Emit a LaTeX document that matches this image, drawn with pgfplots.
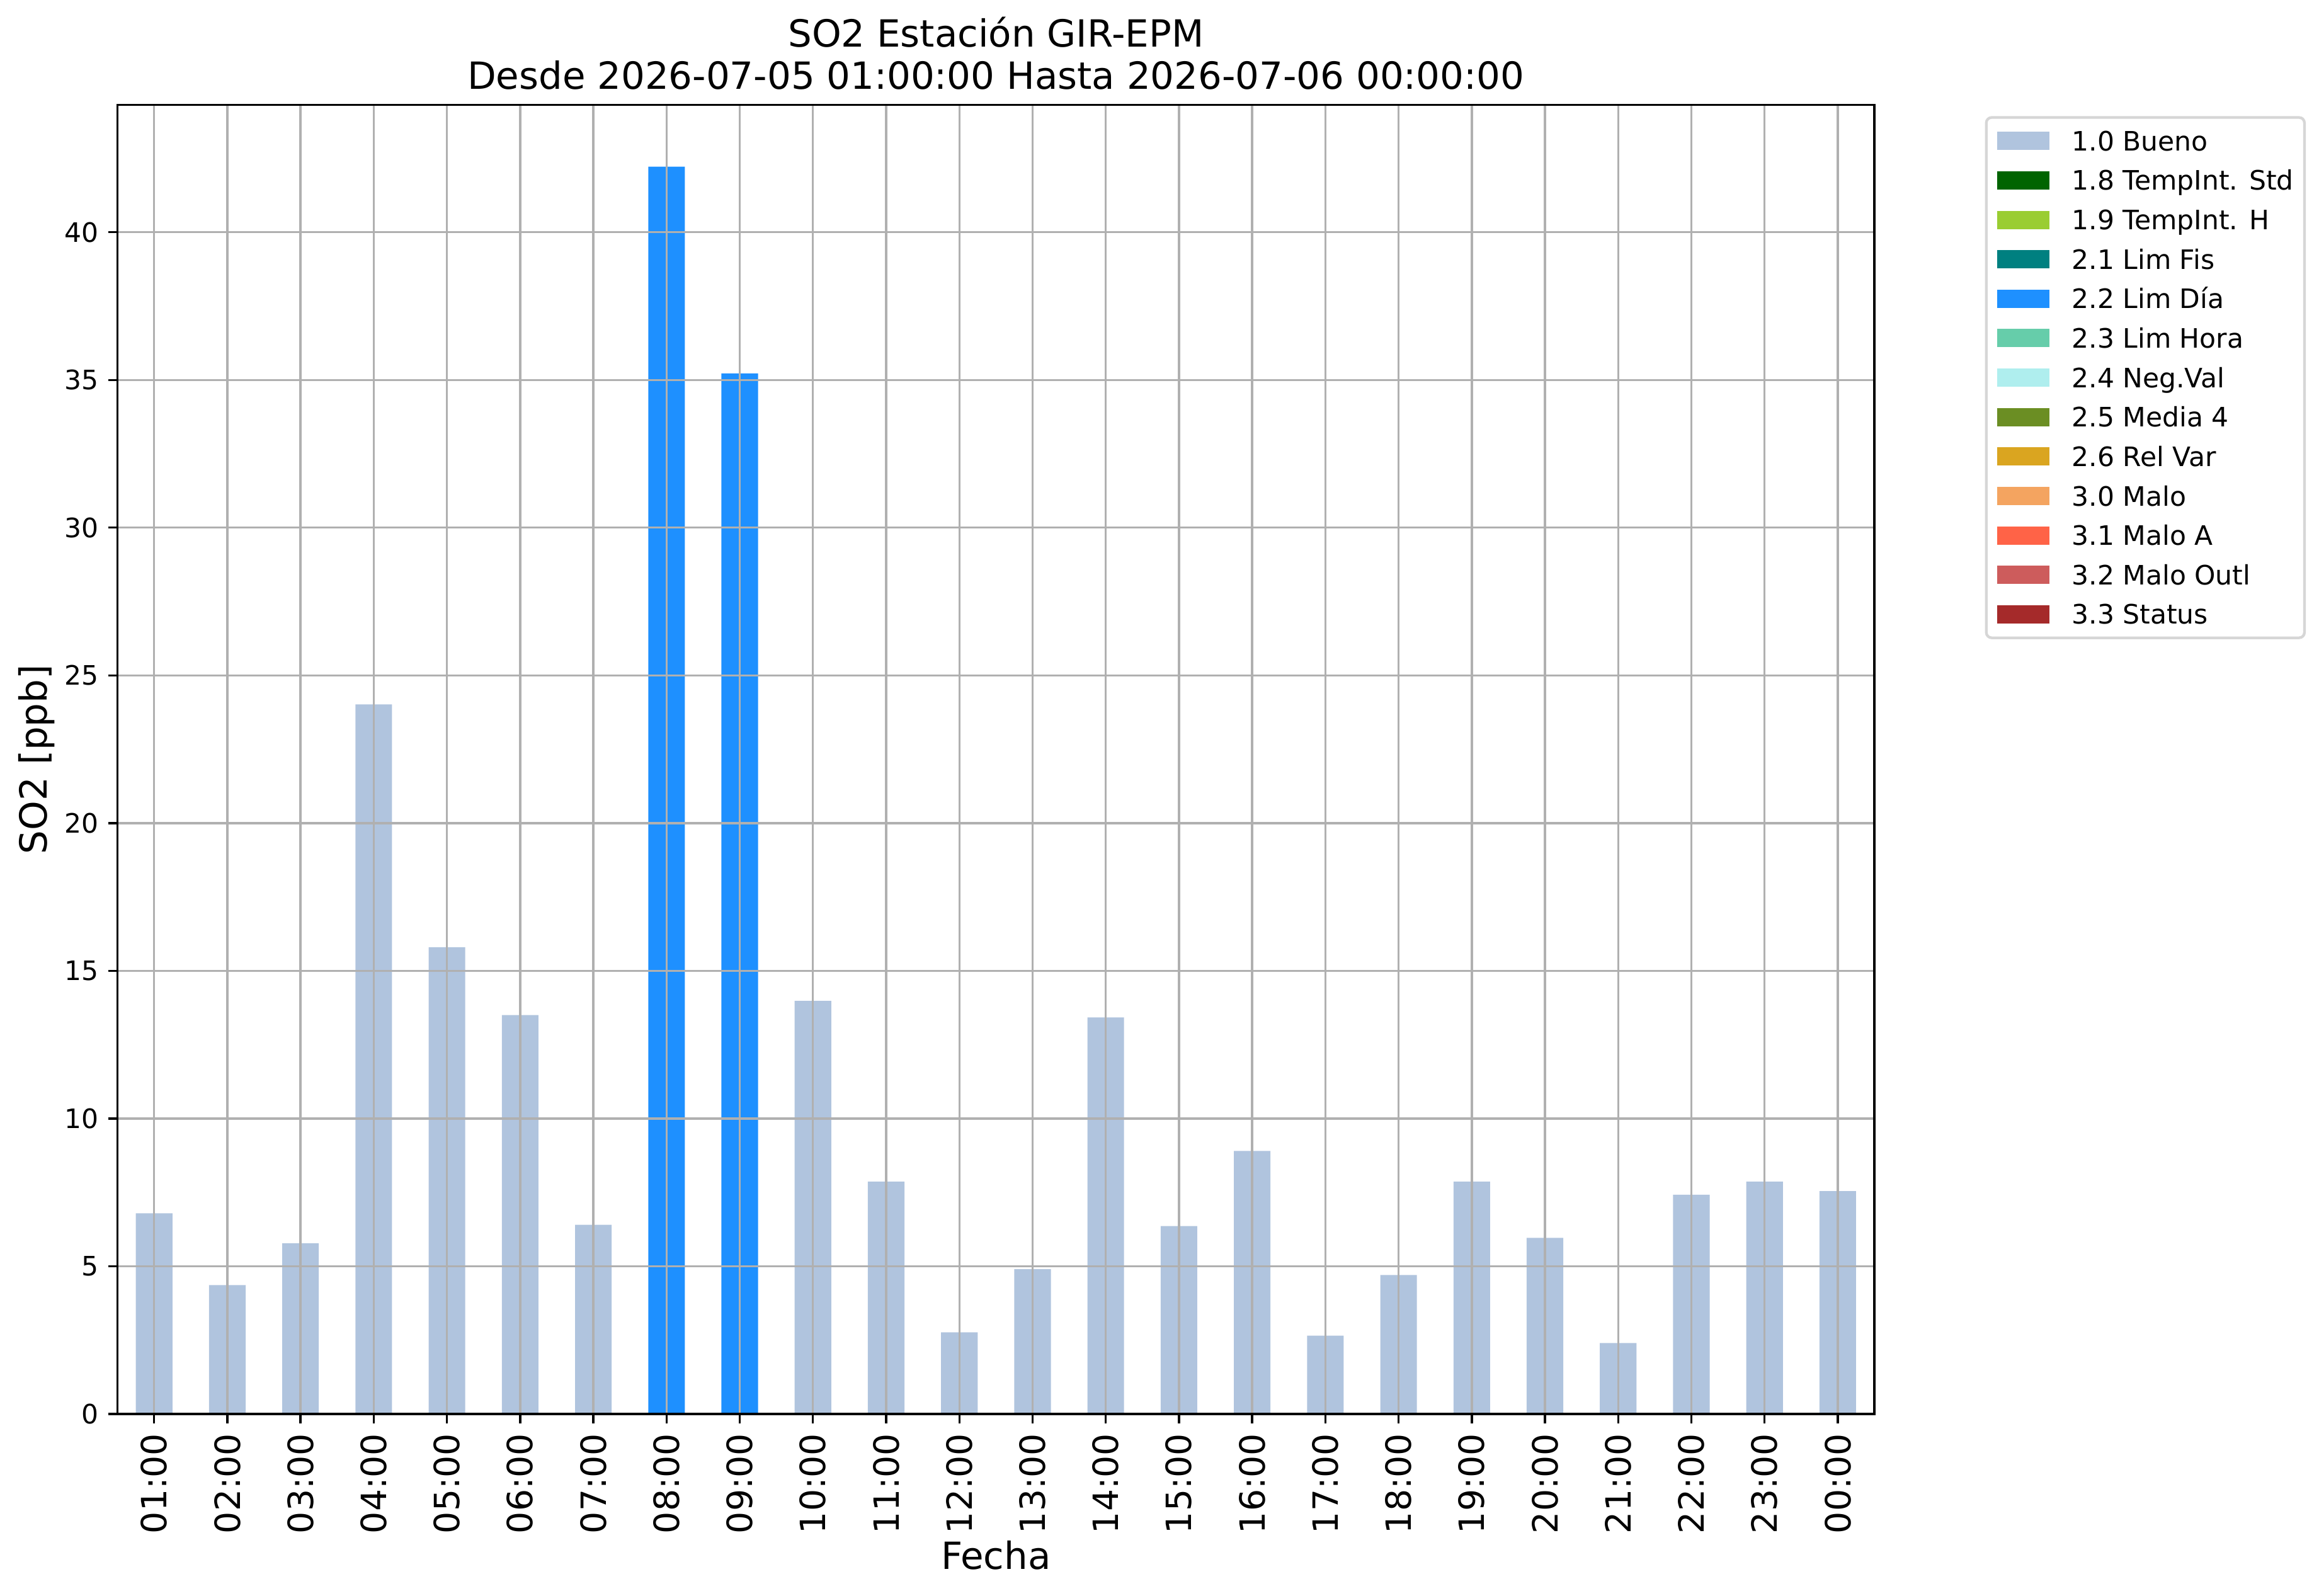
\documentclass[border=0pt]{standalone}
\usepackage{fontspec}
\setmainfont{DejaVu Sans}
\usepackage{pgfplots}
\pgfplotsset{compat=1.18}
\definecolor{cBueno}{HTML}{B0C4DE}
\definecolor{cStd}{HTML}{006400}
\definecolor{cH}{HTML}{9ACD32}
\definecolor{cFis}{HTML}{008080}
\definecolor{cDia}{HTML}{1E90FF}
\definecolor{cHora}{HTML}{66CDAA}
\definecolor{cNeg}{HTML}{AFEEEE}
\definecolor{cMedia}{HTML}{6B8E23}
\definecolor{cRel}{HTML}{DAA520}
\definecolor{cMalo}{HTML}{F4A460}
\definecolor{cMaloA}{HTML}{FF6347}
\definecolor{cOutl}{HTML}{CD5C5C}
\definecolor{cStatus}{HTML}{A52A2A}
\definecolor{gridgray}{HTML}{B0B0B0}
\definecolor{legendgray}{HTML}{D6D6D6}
\pgfplotsset{mpatch/.style={legend image code/.code={\fill[##1, sharp corners] (0bp,-3.4bp) rectangle (19.5bp,3.4bp);}}}
\pgfplotstableread{
x y
0 6.79
1 4.36
2 5.78
3 24.02
4 15.80
5 13.50
6 6.40
9 13.98
10 7.86
11 2.76
12 4.90
13 13.42
14 6.36
15 8.90
16 2.65
17 4.70
18 7.86
19 5.96
20 2.40
21 7.42
22 7.86
23 7.54
}\bueno
\pgfplotstableread{
x y
7 42.22
8 35.22
}\limdia
\begin{document}
\begin{tikzpicture}
\useasboundingbox (-43.8bp,-67.8bp) rectangle (820.4bp,526.9bp);
\begin{axis}[
  at={(0,0)}, anchor=south west,
  width=654.7bp, height=487.8bp, scale only axis,
  xmin=-0.5, xmax=23.5, ymin=0, ymax=44.31,
  xtick={0,...,23},
  xticklabels={01:00,02:00,03:00,04:00,05:00,06:00,07:00,08:00,09:00,10:00,11:00,12:00,13:00,14:00,15:00,16:00,17:00,18:00,19:00,20:00,21:00,22:00,23:00,00:00},
  ytick={0,5,...,40},
  tick align=outside, tick pos=left,
  major tick length=3.5bp,
  every tick/.append style={black, line width=0.8bp},
  axis line style={line width=0.8bp, black},
  grid=major, major grid style={color=gridgray, line width=0.8bp},
  axis on top,
  /pgf/number format/assume math mode=true,
  yticklabel style={font=\fontsize{10}{12}\selectfont, inner sep=0pt},
  xticklabel style={font=\fontsize{13}{15}\selectfont, inner sep=0pt, rotate=90, anchor=east},
  xticklabel shift=3.6bp, yticklabel shift=3.35bp,
  xlabel={Fecha},
  xlabel style={font=\fontsize{14}{16}\selectfont, at={(axis description cs:0.5,0)}, anchor=base, inner sep=0pt, yshift=-57.9bp},
  ylabel={SO2 [ppb]},
  ylabel style={font=\fontsize{14}{16}\selectfont, at={([xshift=-26.2bp]axis description cs:0,0.5)}, rotate=0, anchor=base, inner sep=0pt},
  title={SO2 Estación GIR-EPM\\Desde 2026-07-05 01:00:00 Hasta 2026-07-06 00:00:00},
  title style={font=\fontsize{14}{16}\selectfont, align=center, at={(axis description cs:0.5,1)}, anchor=south, inner sep=0pt, yshift=-0.6bp},
  legend style={at={(axis description cs:1.0637,0.9904)}, anchor=north west,
    draw=legendgray, line width=1bp, rounded corners=2bp, fill=white,
    inner sep=4bp, outer sep=0pt, row sep=5.2bp, column sep=8.4bp,
    font=\fontsize{10}{12}\selectfont,
    nodes={inner sep=0pt, text height=8.4bp, text depth=1.1bp},
    cells={anchor=west}},
  legend cell align=left,
]
\addplot[ybar, bar width=0.5, bar shift=0pt, fill=cBueno, draw=none, mpatch] table[x=x,y=y] {\bueno};
\addlegendentry{1.0 Bueno}
\addlegendimage{fill=cStd, draw=none, mpatch}
\addlegendentry{1.8 TempInt. Std}
\addlegendimage{fill=cH, draw=none, mpatch}
\addlegendentry{1.9 TempInt. H}
\addlegendimage{fill=cFis, draw=none, mpatch}
\addlegendentry{2.1 Lim Fis}
\addplot[ybar, bar width=0.5, bar shift=0pt, fill=cDia, draw=none, mpatch] table[x=x,y=y] {\limdia};
\addlegendentry{2.2 Lim Día}
\addlegendimage{fill=cHora, draw=none, mpatch}
\addlegendentry{2.3 Lim Hora}
\addlegendimage{fill=cNeg, draw=none, mpatch}
\addlegendentry{2.4 Neg.Val}
\addlegendimage{fill=cMedia, draw=none, mpatch}
\addlegendentry{2.5 Media 4}
\addlegendimage{fill=cRel, draw=none, mpatch}
\addlegendentry{2.6 Rel Var}
\addlegendimage{fill=cMalo, draw=none, mpatch}
\addlegendentry{3.0 Malo}
\addlegendimage{fill=cMaloA, draw=none, mpatch}
\addlegendentry{3.1 Malo A}
\addlegendimage{fill=cOutl, draw=none, mpatch}
\addlegendentry{3.2 Malo Outl}
\addlegendimage{fill=cStatus, draw=none, mpatch}
\addlegendentry{3.3 Status}
\end{axis}
\end{tikzpicture}
\end{document}
